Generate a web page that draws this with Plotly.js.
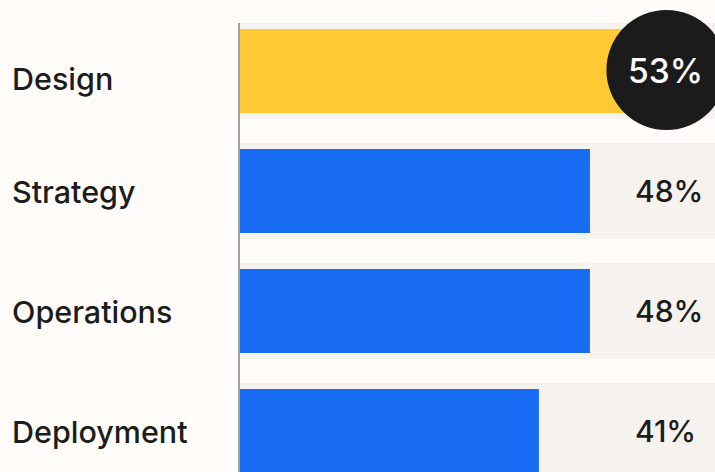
<!DOCTYPE html>
<html><head><meta charset="utf-8">
<script src="https://cdn.plot.ly/plotly-3.0.1.min.js"></script>
<style>html,body{margin:0;padding:0;background:#FFFCF9;overflow:hidden;} #chart{width:715px;height:472px;}</style>
</head><body><div id="chart"></div>
<script>
// ---- data ----
const categories = ['Design', 'Strategy', 'Operations', 'Deployment'];
const values = [53, 48, 48, 41];
const valueLabels = ['53%', '48%', '48%', '41%'];
const highlighted = [true, false, false, false];
const trackTotal = [100, 100, 100, 100];

// ---- style ----
const FONT = 'Inter, "Open Sans", sans-serif';
const TEXT = '#1c1c1c';
const BLUE = '#176CF3';
const YELLOW = '#FFC933';
const TRACK = '#F5F2EF';
const BG = '#FFFCF9';

const barColors = highlighted.map(h => h ? YELLOW : BLUE);

const traces = [
  {type: 'bar', orientation: 'h', y: categories, x: trackTotal, width: 0.8,
   marker: {color: TRACK}, hoverinfo: 'skip'},
  {type: 'bar', orientation: 'h', y: categories, x: values, width: 0.7,
   marker: {color: barColors}, hoverinfo: 'skip'}
];

const annotations = [];
const shapes = [];
categories.forEach((c, i) => {
  annotations.push({xref: 'paper', yref: 'y', x: 0, y: c, xanchor: 'left', yanchor: 'middle',
    xshift: -230, yshift: highlighted[i] ? -7 : 0, text: c, showarrow: false,
    font: {family: FONT, size: 30.5, color: TEXT, weight: 500}});
  if (highlighted[i]) {
    shapes.push({type: 'circle', xref: 'x', yref: 'y', xsizemode: 'pixel', ysizemode: 'pixel',
      xanchor: values[i], yanchor: c, x0: -20, x1: 100, y0: -59, y1: 61,
      fillcolor: '#1B1B1B', line: {width: 0}, layer: 'above'});
    annotations.push({xref: 'x', yref: 'y', x: values[i], y: c, xanchor: 'center', yanchor: 'middle',
      xshift: 39, yshift: 0, text: valueLabels[i], showarrow: false,
      font: {family: FONT, size: 33.5, color: '#FFFFFF', weight: 500}});
  } else {
    annotations.push({xref: 'x', yref: 'y', x: 53.85, y: c, xanchor: 'left', yanchor: 'middle',
      text: valueLabels[i], showarrow: false,
      font: {family: FONT, size: 30, color: TEXT, weight: 500}});
  }
});

// vertical axis line starting at top of first track
shapes.push({type: 'line', xref: 'paper', yref: 'y', xsizemode: 'pixel', xanchor: 0,
  x0: -1, x1: -1, y0: -0.4, y1: 3.5,
  line: {color: '#A0A0A0', width: 2}, layer: 'above'});

const layout = {
  width: 715, height: 472,
  margin: {l: 240, r: 0, t: 0, b: 0},
  paper_bgcolor: BG, plot_bgcolor: BG,
  barmode: 'overlay', showlegend: false, hovermode: false,
  xaxis: {range: [0, 65.15], visible: false, fixedrange: true},
  yaxis: {type: 'category', range: [3.3417, -0.5917], visible: false, fixedrange: true},
  annotations: annotations, shapes: shapes,
  font: {family: FONT}
};

Plotly.newPlot('chart', traces, layout, {displayModeBar: false, staticPlot: true});
</script></body></html>
